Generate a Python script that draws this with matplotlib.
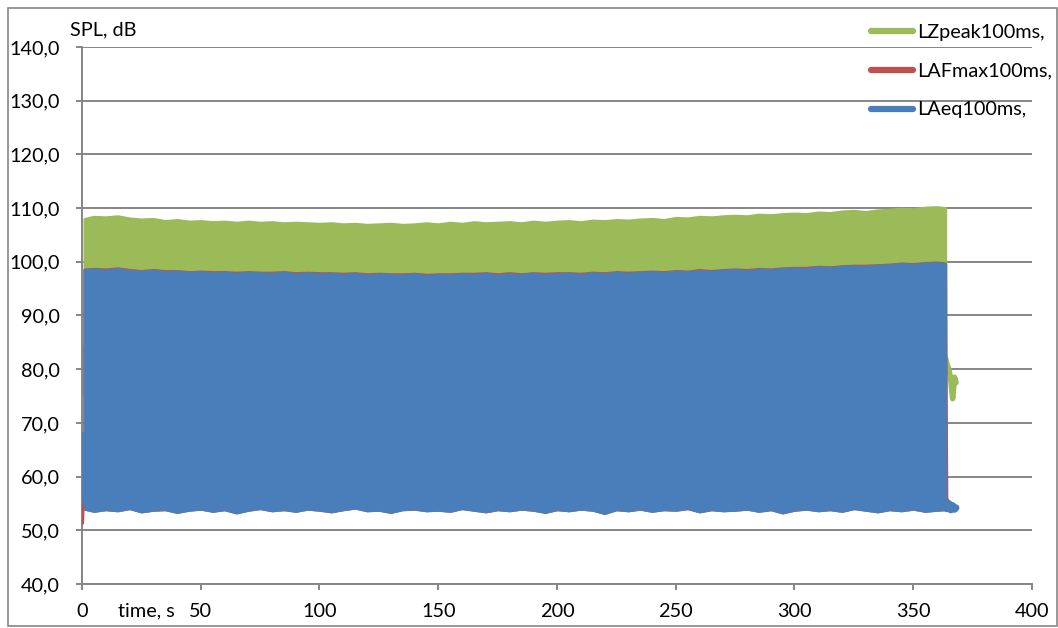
import numpy as np
import matplotlib

matplotlib.use('Agg')
import matplotlib.pyplot as plt
from matplotlib.patches import Rectangle

# envelope of the 100 ms series, read every 5 s (dB)
t_env = [1] + list(range(5, 361, 5)) + [363.5]

lzpeak_top = [108.0, 108.4, 108.3, 108.5, 108.1, 107.9, 108.0, 107.6, 107.8, 107.5,
              107.6, 107.4, 107.5, 107.3, 107.5, 107.3, 107.4, 107.2, 107.3, 107.2,
              107.1, 107.2, 107.0, 107.1, 106.9, 107.0, 107.1, 106.9, 107.0, 107.2,
              107.0, 107.3, 107.1, 107.4, 107.2, 107.3, 107.4, 107.2, 107.5, 107.3,
              107.5, 107.6, 107.4, 107.7, 107.6, 107.8, 107.7, 107.9, 108.0, 107.8,
              108.2, 108.1, 108.4, 108.3, 108.5, 108.6, 108.5, 108.8, 108.7, 108.9,
              109.0, 108.9, 109.2, 109.1, 109.4, 109.5, 109.3, 109.6, 109.7, 109.9,
              109.8, 110.1, 110.2, 110.0]

laeq_top = [98.5, 98.6, 98.4, 98.7, 98.3, 98.2, 98.4, 98.1, 98.2, 98.0,
            98.1, 97.9, 98.0, 97.8, 98.0, 97.9, 97.8, 98.0, 97.7, 97.9,
            97.7, 97.8, 97.6, 97.8, 97.5, 97.7, 97.6, 97.5, 97.7, 97.4,
            97.6, 97.5, 97.7, 97.6, 97.8, 97.5, 97.7, 97.6, 97.8, 97.6,
            97.7, 97.8, 97.6, 97.9, 97.7, 98.0, 97.8, 98.0, 98.1, 97.9,
            98.2, 98.1, 98.3, 98.2, 98.4, 98.5, 98.3, 98.6, 98.5, 98.7,
            98.8, 98.7, 99.0, 98.9, 99.1, 99.2, 99.1, 99.3, 99.4, 99.6,
            99.5, 99.7, 99.8, 99.6]

lafmax_top = [98.6, 98.7, 98.6, 98.8, 98.5, 98.3, 98.5, 98.3, 98.3, 98.1,
              98.2, 98.1, 98.1, 98.0, 98.1, 98.0, 98.0, 98.1, 97.9, 98.0,
              97.9, 97.9, 97.8, 97.9, 97.7, 97.8, 97.7, 97.7, 97.8, 97.6,
              97.7, 97.7, 97.8, 97.8, 97.9, 97.7, 97.9, 97.7, 97.9, 97.8,
              97.9, 97.9, 97.8, 98.0, 97.9, 98.1, 98.0, 98.1, 98.2, 98.1,
              98.3, 98.2, 98.5, 98.3, 98.5, 98.6, 98.5, 98.7, 98.6, 98.8,
              98.9, 98.9, 99.1, 99.0, 99.2, 99.3, 99.3, 99.4, 99.5, 99.7,
              99.6, 99.8, 99.9, 99.7]

laeq_low = [54.0, 53.6, 53.9, 53.7, 54.1, 53.5, 53.8, 53.9, 53.4, 53.8,
            54.0, 53.6, 53.9, 53.3, 53.8, 54.1, 53.7, 53.9, 53.6, 54.0,
            53.8, 53.5, 53.9, 54.2, 53.7, 53.8, 53.4, 53.9, 54.0, 53.7,
            53.8, 53.6, 54.1, 53.8, 53.5, 53.9, 53.7, 54.0, 53.8, 53.4,
            53.9, 53.7, 54.0, 53.8, 53.2, 53.9, 53.7, 54.0, 53.6, 53.9,
            53.8, 54.1, 53.5, 53.9, 53.7, 53.8, 54.0, 53.6, 53.9, 53.3,
            53.8, 54.0, 53.7, 53.9, 53.6, 54.1, 53.8, 53.5, 53.9, 53.7,
            54.0, 53.6, 53.8, 53.9]

# first and last seconds of the recording
t_start = [0.0, 0.4, 0.8]
lzpeak_start = [84.0, 75.5, 79.0]
lafmax_start = [51.5, 56.5, 60.0]
laeq_start = [55.5, 68.0, 60.0]

t_end = [363.6, 364.2, 365.0, 365.8, 366.6, 367.4, 368.0]
lzpeak_end = [82.0, 81.0, 80.0, 78.0, 74.5, 78.5, 77.5]
lafmax_end = [99.0, 56.0, 55.0, 54.5, 54.0, 54.3, 54.0]
laeq_end = [54.5, 54.0, 55.0, 53.8, 54.6, 53.9, 54.2]

labels = ["LZpeak100ms,", "LAFmax100ms,", "LAeq100ms,"]
green = '#9BBB59'
red = '#C0504D'
blue = '#4A7EBB'
grid = '#868686'

plt.rcParams['font.family'] = ['Lato', 'DejaVu Sans']

fig = plt.figure(figsize=(10.58, 6.28), dpi=100)
ax = fig.add_axes([0.0775, 0.0701, 0.8979, 0.8551])

ax.fill_between(t_env, 60, lzpeak_top, color=green, lw=2, zorder=2)
ax.fill_between(t_env, laeq_low, lafmax_top, color=red, lw=2, zorder=3)
ax.fill_between(t_env, laeq_low, laeq_top, color=blue, lw=2, zorder=4)

ax.plot(t_start, lzpeak_start, color=green, lw=3, zorder=2)
ax.plot(t_start, lafmax_start, color=red, lw=3, zorder=3)
ax.plot(t_start, laeq_start, color=blue, lw=3, zorder=4)
ax.plot(t_end, lzpeak_end, color=green, lw=4, zorder=2, solid_capstyle='round')
ax.plot(t_end, lafmax_end, color=red, lw=2, zorder=3)
ax.plot(t_end, laeq_end, color=blue, lw=5, zorder=4, solid_capstyle='round')

ax.set_xlim(0, 400)
ax.set_ylim(40, 140)
ax.set_xticks(range(0, 401, 50))
ax.set_yticks(range(40, 141, 10))
ax.set_yticklabels([f"{v},0" for v in range(40, 141, 10)])
ax.yaxis.grid(True, color=grid, lw=1.4, zorder=1)
ax.set_axisbelow(True)
for s in ['top', 'right']:
    ax.spines[s].set_visible(False)
for s in ['left', 'bottom']:
    ax.spines[s].set_color(grid)
    ax.spines[s].set_linewidth(1.4)
ax.tick_params(colors=grid, length=4, width=1.4, labelsize=14.3, labelcolor='black')
ax.tick_params(axis='y', pad=12)
ax.tick_params(axis='x', pad=10)

handles = [plt.Line2D([], [], color=c, lw=4.5, solid_capstyle='round') for c in [green, red, blue]]
leg = ax.legend(handles, labels, loc='upper left', bbox_to_anchor=(0.822, 1.058),
                frameon=False, fontsize=14.3, handlelength=2.1, handletextpad=0.25,
                labelspacing=1.1, borderaxespad=0)

fig.text(70 / 1058, 1 - 30 / 628, "SPL, dB", fontsize=14.3, va='center', ha='left')
fig.text(118 / 1058, 1 - 611 / 628, "time, s", fontsize=14.3, va='center', ha='left')

fig.patches.append(Rectangle((8 / 1058, 2 / 628), 1049 / 1058, 618 / 628,
                             transform=fig.transFigure, fill=False,
                             edgecolor=grid, lw=1.2))

fig.savefig('out.png', dpi=100)
